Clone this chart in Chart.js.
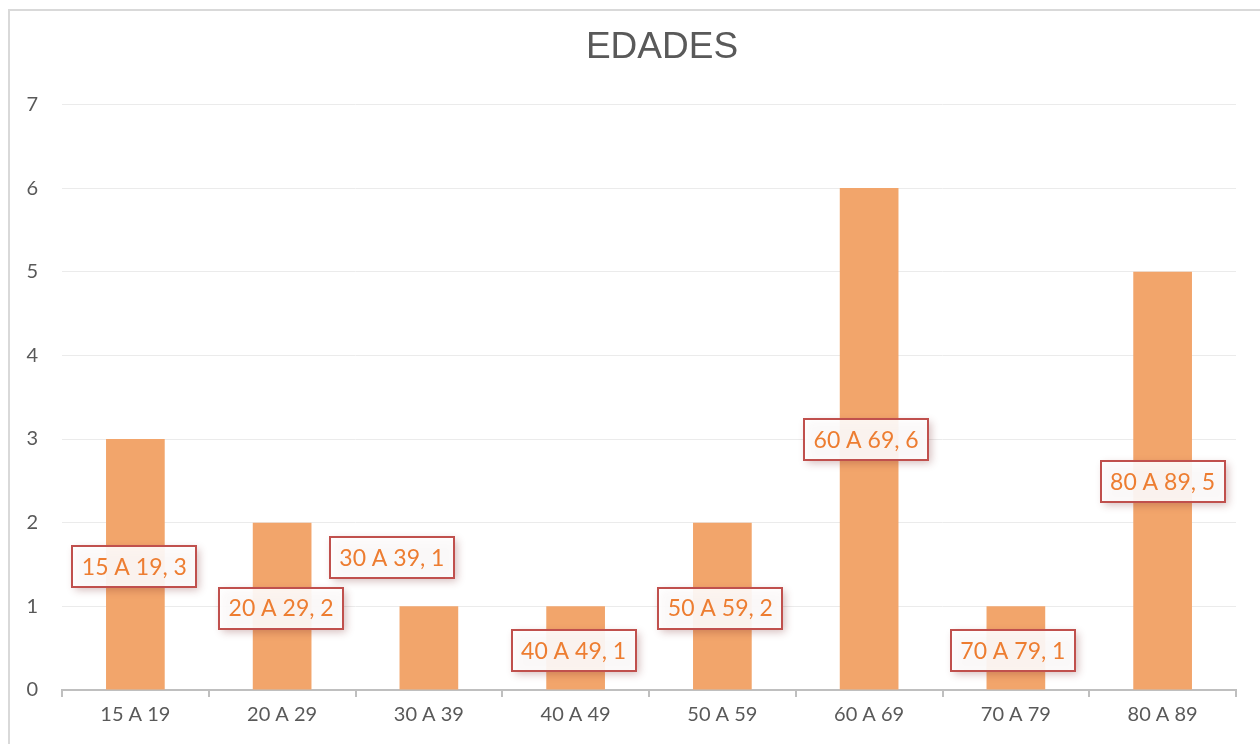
<!DOCTYPE html>
<html>
<head>
<meta charset="utf-8">
<script src="https://cdn.jsdelivr.net/npm/chart.js@4/dist/chart.umd.min.js"></script>
<style>
	html, body { margin: 0; padding: 0; background: #fff; overflow: hidden; }
	#frame { position: absolute; left: 8px; top: 9px; width: 1300px; height: 800px; border: 2px solid #d9d9d9; }
	#wrap { position: absolute; left: 0; top: 0; width: 1260px; height: 744px; }
</style>
</head>
<body>
<div id="frame"></div>
<div id="wrap"><canvas id="chart"></canvas></div>
<script>
var categories = ['15 A 19', '20 A 29', '30 A 39', '40 A 49', '50 A 59', '60 A 69', '70 A 79', '80 A 89'];
var counts = [3, 2, 1, 1, 2, 6, 1, 5];
var yTicks = [0, 1, 2, 3, 4, 5, 6, 7];

// where each callout sits: shift in px from bar centre, height in axis units
var calloutPos = [
	{ dx: -1, y: 1.48 },
	{ dx: -1, y: 0.98 },
	{ dx: -37, y: 1.58 },
	{ dx: -2, y: 0.47 },
	{ dx: -2, y: 0.98 },
	{ dx: -3, y: 2.99 },
	{ dx: -3, y: 0.47 },
	{ dx: 0, y: 2.49 }
];

var callouts = {
	id: 'callouts',
	afterLayout: function(chart) {
		// title sits a bit right of the canvas centre in the original
		var t = chart.titleBlock;
		if (t) { t.left += 44; t.right += 44; }
	},
	afterDatasetsDraw: function(chart) {
		var ctx = chart.ctx;
		var meta = chart.getDatasetMeta(0);
		var yScale = chart.scales.y;
		ctx.save();
		ctx.font = '23px Lato, "Open Sans", sans-serif';
		meta.data.forEach(function(bar, i) {
			var text = categories[i] + ', ' + counts[i];
			var w = 124, h = 41;
			var cx = bar.x + calloutPos[i].dx;
			var cy = yScale.getPixelForValue(calloutPos[i].y);
			var x = Math.round(cx - w / 2), y = Math.round(cy - h / 2);
			ctx.shadowColor = 'rgba(120, 40, 40, 0.35)';
			ctx.shadowBlur = 8;
			ctx.shadowOffsetX = 3;
			ctx.shadowOffsetY = 3;
			ctx.fillStyle = 'rgba(255, 255, 255, 0.9)';
			ctx.fillRect(x, y, w, h);
			ctx.shadowColor = 'transparent';
			ctx.lineWidth = 2;
			ctx.strokeStyle = '#c0504d';
			ctx.strokeRect(x, y, w, h);
			ctx.fillStyle = '#ed7d31';
			ctx.textAlign = 'center';
			ctx.textBaseline = 'middle';
			ctx.fillText(text, cx, cy + 1);
		});
		ctx.restore();
	}
};

new Chart(document.getElementById('chart'), {
	type: 'bar',
	data: {
		labels: categories,
		datasets: [{
			data: counts,
			backgroundColor: '#f2a56b',
			categoryPercentage: 1,
			barPercentage: 0.4
		}]
	},
	options: {
		responsive: true,
		maintainAspectRatio: false,
		animation: false,
		layout: { padding: { left: 0, right: 24, top: 0, bottom: 0 } },
		plugins: {
			legend: { display: false },
			tooltip: { enabled: false },
			title: {
				display: true,
				text: 'EDADES',
				color: '#595959',
				font: { family: '"Liberation Sans", Arial, sans-serif', size: 37, weight: 'normal' },
				padding: { top: 26, bottom: 34 }
			}
		},
		scales: {
			x: {
				grid: { display: true, drawOnChartArea: false, offset: true, color: '#bfbfbf', lineWidth: 2, tickLength: 7 },
				border: { color: '#bfbfbf', width: 2 },
				ticks: { color: '#595959', font: { family: 'Lato, "Open Sans", sans-serif', size: 20 }, padding: 6 },
				afterFit: function(s) { s.height = 54; }
			},
			y: {
				min: 0,
				max: 7,
				afterBuildTicks: function(s) { s.ticks = yTicks.map(function(v) { return { value: v }; }); },
				grid: { color: '#ebebeb', lineWidth: 1, drawTicks: false },
				border: { display: false },
				ticks: { color: '#595959', font: { family: 'Lato, "Open Sans", sans-serif', size: 20 }, padding: 24 },
				afterFit: function(s) { s.width = 62; }
			}
		}
	},
	plugins: [callouts]
});
</script>
</body>
</html>
